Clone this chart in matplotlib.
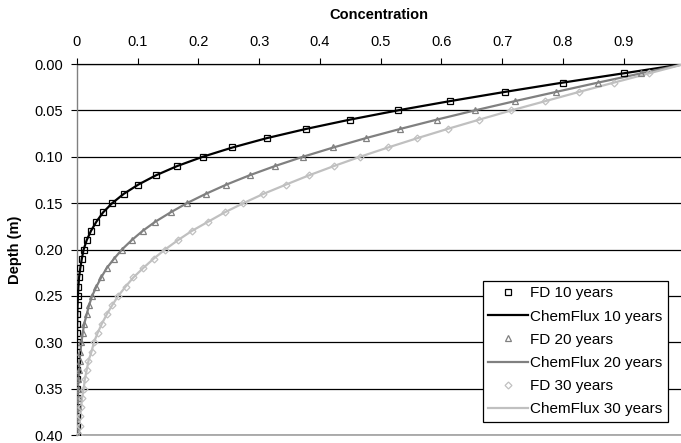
import numpy as np
import matplotlib
matplotlib.use("Agg")
import matplotlib.pyplot as plt

plt.rcParams['font.family'] = ['Liberation Sans', 'DejaVu Sans']

depth = [0.00, 0.01, 0.02, 0.03, 0.04, 0.05, 0.06, 0.07, 0.08, 0.09,
         0.10, 0.11, 0.12, 0.13, 0.14, 0.15, 0.16, 0.17, 0.18, 0.19,
         0.20, 0.21, 0.22, 0.23, 0.24, 0.25, 0.26, 0.27, 0.28, 0.29,
         0.30, 0.31, 0.32, 0.33, 0.34, 0.35, 0.36, 0.37, 0.38, 0.39, 0.40]

# concentration (FD markers and ChemFlux lines coincide)
conc_10 = [1.000, 0.900, 0.800, 0.705, 0.614, 0.528, 0.449, 0.377, 0.312, 0.256,
           0.207, 0.165, 0.130, 0.101, 0.077, 0.058, 0.043, 0.032, 0.023, 0.016,
           0.011, 0.008, 0.0055, 0.0035, 0.0024, 0.0016, 0.0010, 0.0006, 0.0004, 0.0002,
           0.0001, 0.0001, 0.0, 0.0, 0.0, 0.0, 0.0, 0.0, 0.0, 0.0, 0.0]
conc_20 = [1.000, 0.929, 0.858, 0.789, 0.721, 0.655, 0.592, 0.532, 0.475, 0.422,
           0.372, 0.326, 0.284, 0.246, 0.212, 0.181, 0.154, 0.129, 0.108, 0.090,
           0.074, 0.061, 0.049, 0.040, 0.032, 0.025, 0.020, 0.016, 0.012, 0.0095,
           0.0074, 0.0057, 0.0043, 0.0033, 0.0024, 0.0018, 0.0013, 0.0010, 0.0007, 0.0005, 0.0004]
conc_30 = [1.000, 0.942, 0.884, 0.827, 0.771, 0.715, 0.662, 0.610, 0.560, 0.512,
           0.466, 0.423, 0.382, 0.344, 0.307, 0.274, 0.243, 0.216, 0.189, 0.166,
           0.145, 0.126, 0.109, 0.093, 0.080, 0.068, 0.058, 0.049, 0.041, 0.034,
           0.028, 0.024, 0.019, 0.016, 0.013, 0.011, 0.0085, 0.0068, 0.0054, 0.0043, 0.0034]

series = [("10 years", conc_10, "#000000", "s"),
          ("20 years", conc_20, "#808080", "^"),
          ("30 years", conc_30, "#c0c0c0", "D")]

fig = plt.figure(figsize=(6.81, 4.43), dpi=100)
ax = fig.add_axes([0.113, 0.018, 0.887, 0.8375])

for label, conc, color, marker in series:
    ms = 4.5 if marker != "D" else 3.5
    ax.plot(conc, depth, linestyle="none", marker=marker, markersize=ms,
            markerfacecolor="none", markeredgecolor=color, markeredgewidth=0.9,
            label="FD " + label, zorder=4)
    ax.plot(conc, depth, color=color, linewidth=1.6, label="ChemFlux " + label, zorder=3)

ax.set_xlim(0, 0.9942)
ax.set_ylim(0.40, 0.0)
ax.xaxis.tick_top()
ax.xaxis.set_label_position("top")
ax.set_xticks(np.arange(0, 1.0, 0.1))
ax.set_xticklabels(["0"] + ["%.1f" % v for v in np.arange(0.1, 1.0, 0.1)])
ax.set_yticks(np.arange(0, 0.401, 0.05))
ax.set_yticklabels(["%.2f" % v for v in np.arange(0, 0.401, 0.05)])
ax.tick_params(axis="both", labelsize=10.5, length=4, width=0.8, color="#000000",
               labelcolor="#000000")
ax.tick_params(axis="x", pad=7)
ax.tick_params(axis="y", pad=6)

ax.yaxis.grid(True, color="#000000", linewidth=0.9)
ax.xaxis.grid(False)
ax.set_axisbelow(True)

ax.spines["right"].set_visible(False)
ax.spines["top"].set_color("#000000")
ax.spines["top"].set_linewidth(0.9)
ax.spines["left"].set_color("#808080")
ax.spines["left"].set_linewidth(1.0)
ax.spines["bottom"].set_color("#a0a0a0")
ax.spines["bottom"].set_linewidth(1.2)

ax.set_xlabel("Concentration", fontsize=10.5, fontweight="bold", labelpad=11)
ax.set_ylabel("Depth (m)", fontsize=10.5, fontweight="bold", labelpad=9)

leg = ax.legend(loc="lower right", bbox_to_anchor=(0.9785, 0.036), fontsize=11,
                frameon=True, fancybox=False, framealpha=1, edgecolor="#000000",
                handlelength=2.6, handletextpad=0.15, borderpad=0.35,
                labelspacing=0.6, borderaxespad=0)
leg.get_frame().set_linewidth(0.9)
for t in leg.get_texts():
    t.set_x(0)

fig.savefig("out.png", dpi=100)
